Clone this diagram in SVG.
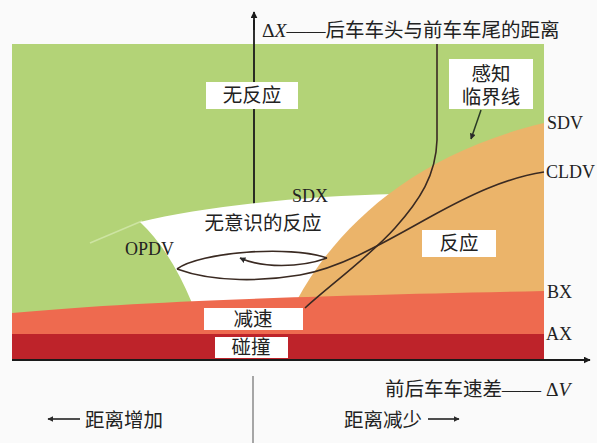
<svg xmlns="http://www.w3.org/2000/svg" width="597" height="443" viewBox="0 0 597 443">
<style>
.cjk{font-family:"Liberation Serif","Noto Sans CJK SC",serif;font-size:19.5px;fill:#222}
.lat{font-family:"Liberation Serif","Noto Sans CJK SC",serif;font-size:18px;fill:#222}
.box{fill:#ffffff}
.curve{fill:none;stroke:#3a2a22;stroke-width:1.6}
.axis{stroke:#1a1a1a;stroke-width:1.8;fill:none}
</style>
<defs>
<marker id="ah" viewBox="0 0 10 10" refX="9" refY="5" markerWidth="7" markerHeight="7" orient="auto" markerUnits="userSpaceOnUse">
<path d="M0,0 L10,5 L0,10 Z" fill="#1a1a1a"/>
</marker>
<marker id="ahs" viewBox="0 0 10 10" refX="9" refY="5" markerWidth="6" markerHeight="6" orient="auto" markerUnits="userSpaceOnUse">
<path d="M0,0 L10,5 L0,10 Z" fill="#2a2a2a"/>
</marker>
</defs>
<rect x="0" y="0" width="597" height="443" fill="#fafafa"/>
<g id="regions">
<rect x="12" y="44" width="532" height="316" fill="#b3d377"/>
<line x1="90" y1="243" x2="142" y2="221" stroke="#cde4a2" stroke-width="1.5"/>
<line x1="254" y1="360" x2="254" y2="20" class="axis"/>
<path d="M140,222 C200,207 300,196 395,194 L300,303 L192,303 Q170,250 140,222 Z" fill="#ffffff"/>
<path d="M297,300 C335,230 410,155 544,123 L544,300 Z" fill="#ebb46a"/>
<path d="M12,313 C120,303 250,297 544,291 L544,334 L12,334 Z" fill="#ee6a4f"/>
<rect x="12" y="334" width="532" height="26" fill="#be232a"/>
</g>
<g id="connectors">
<line x1="254" y1="30" x2="254" y2="12" class="axis" marker-end="url(#ah)"/>
<line x1="12" y1="360" x2="590" y2="360" class="axis" marker-end="url(#ah)"/>
<line x1="253" y1="376" x2="253" y2="443" stroke="#8a8a8a" stroke-width="1.5"/>
<path d="M437,44 L437,140 C436,175 420,200 395,228 C370,256 330,285 305,308" class="curve"/>
<path d="M177,269 C215,283 265,281 300,275 C340,268 380,245 430,217 C470,195 505,178 544,172" class="curve"/>
<path d="M177,269 C200,252 290,245 327,258" class="curve"/>
<path d="M327,258 C300,268 262,268 240,258" class="curve" marker-end="url(#ahs)"/>
<line x1="481" y1="110" x2="471" y2="139" stroke="#2a3a25" stroke-width="1.5" marker-end="url(#ahs)"/>
<line x1="80" y1="419" x2="48" y2="419" stroke="#222" stroke-width="1.6" marker-end="url(#ahs)"/>
<line x1="428" y1="419" x2="459" y2="419" stroke="#222" stroke-width="1.6" marker-end="url(#ahs)"/>
</g>
<g id="node-no-reaction">
<rect x="206" y="82" width="92" height="27" class="box"/>
<text x="252" y="102" text-anchor="middle" class="cjk">无反应</text>
</g>
<g id="node-perception">
<rect x="449" y="59" width="84" height="50" class="box"/>
<text x="491" y="81" text-anchor="middle" class="cjk">感知</text>
<text x="491" y="104" text-anchor="middle" class="cjk">临界线</text>
</g>
<g id="node-unconscious">
<text x="263" y="230" text-anchor="middle" class="cjk">无意识的反应</text>
</g>
<g id="node-reaction">
<rect x="422" y="230" width="74" height="27" class="box"/>
<text x="459" y="250" text-anchor="middle" class="cjk">反应</text>
</g>
<g id="node-decel">
<rect x="204" y="308" width="99" height="22" class="box"/>
<text x="253" y="326" text-anchor="middle" class="cjk">减速</text>
</g>
<g id="node-collision">
<rect x="215" y="337" width="73" height="21" class="box"/>
<text x="251" y="354" text-anchor="middle" class="cjk">碰撞</text>
</g>
<g id="labels">
<text x="262" y="37" class="cjk">Δ<tspan font-style="italic">X</tspan>——后车车头与前车车尾的距离</text>
<text x="292" y="202" class="lat">SDX</text>
<text x="125" y="255" class="lat">OPDV</text>
<text x="547" y="129" class="lat">SDV</text>
<text x="546" y="178" class="lat">CLDV</text>
<text x="547" y="298" class="lat">BX</text>
<text x="546" y="340" class="lat">AX</text>
<text x="385" y="396" class="cjk">前后车车速差—— Δ<tspan font-style="italic">V</tspan></text>
<text x="85" y="427" class="cjk">距离增加</text>
<text x="344" y="427" class="cjk">距离减少</text>
</g>
</svg>
